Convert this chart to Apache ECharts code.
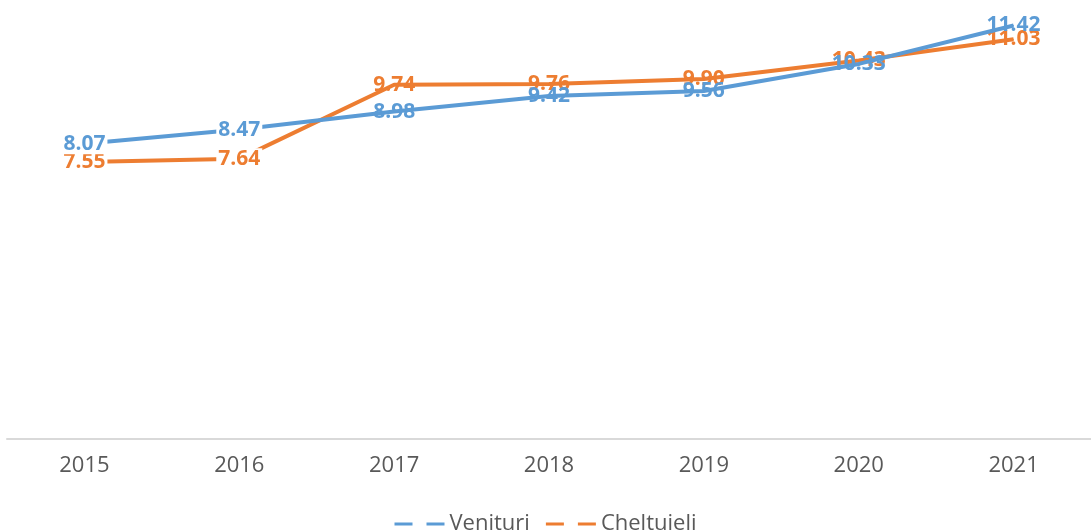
<!DOCTYPE html>
<html>
<head>
<meta charset="utf-8">
<script src="https://cdn.jsdelivr.net/npm/echarts@6/dist/echarts.min.js"></script>
<style>
  html, body { margin: 0; padding: 0; background: #fff; }
  #chart { width: 1091px; height: 531px; }
</style>
</head>
<body>
<div id="chart"></div>
<script>
var years = ['2015', '2016', '2017', '2018', '2019', '2020', '2021'];
var venituri = [8.07, 8.47, 8.98, 9.42, 9.56, 10.33, 11.42];
var cheltuieli = [7.55, 7.64, 9.74, 9.76, 9.90, 10.43, 11.03];

var blue = '#5B9BD5';
var orange = '#ED7D31';

// primele doua etichete au fundal alb (linia se opreste la marginea lor)
function withLabels(values) {
    return values.map(function (v, i) {
        if (i < 2) {
            return { value: v, label: { backgroundColor: '#fff', padding: [0, 2] } };
        }
        return v;
    });
}

let myChart = echarts.init(document.getElementById('chart'));

let option = {
    animation: false,
    grid: { left: 7, right: -10, top: 5, bottom: 92 },
    legend: {
        top: 508,
        left: 'center',
        itemWidth: 50,
        itemHeight: 3,
        itemGap: 16,
        textStyle: { fontFamily: 'Open Sans', fontSize: 22, color: '#595959' },
        data: [
            { name: 'Venituri', icon: 'path://M0,0H18V3H0Z M32,0H50V3H32Z' },
            { name: 'Cheltuieli', icon: 'path://M0,0H18V3H0Z M32,0H50V3H32Z' }
        ]
    },
    xAxis: {
        type: 'category',
        data: years,
        axisLine: { onZero: false, lineStyle: { color: '#D9D9D9', width: 2 } },
        axisTick: { show: false },
        axisLabel: { margin: 16, fontFamily: 'Open Sans', fontSize: 22, color: '#595959' }
    },
    yAxis: {
        type: 'value',
        min: -0.3,
        max: 12,
        show: false,
        splitLine: { show: false }
    },
    series: [
        {
            name: 'Venituri',
            type: 'line',
            z: 3,
            data: withLabels(venituri),
            symbol: 'circle',
            symbolSize: 1,
            itemStyle: { color: blue },
            lineStyle: { color: blue, width: 4 },
            label: {
                show: true,
                position: 'inside',
                color: blue,
                fontFamily: 'Open Sans',
                fontWeight: 'bold',
                fontSize: 21,
                formatter: function (p) { return p.value.toFixed(2); }
            }
        },
        {
            name: 'Cheltuieli',
            type: 'line',
            z: 2,
            data: withLabels(cheltuieli),
            symbol: 'circle',
            symbolSize: 1,
            itemStyle: { color: orange },
            lineStyle: { color: orange, width: 4 },
            label: {
                show: true,
                position: 'inside',
                color: orange,
                fontFamily: 'Open Sans',
                fontWeight: 'bold',
                fontSize: 21,
                formatter: function (p) { return p.value.toFixed(2); }
            }
        }
    ]
};
myChart.setOption(option);
</script>
</body>
</html>
